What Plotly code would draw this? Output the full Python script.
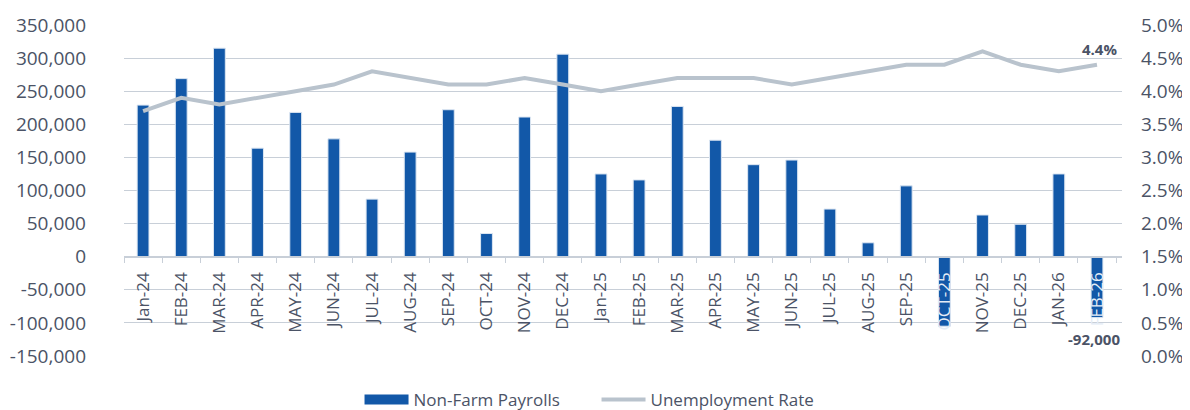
import plotly.graph_objects as go

months = ["Jan-24", "FEB-24", "MAR-24", "APR-24", "MAY-24", "JUN-24", "JUL-24", "AUG-24",
          "SEP-24", "OCT-24", "NOV-24", "DEC-24", "Jan-25", "FEB-25", "MAR-25", "APR-25",
          "MAY-25", "JUN-25", "JUL-25", "AUG-25", "SEP-25", "OCT-25", "NOV-25", "DEC-25",
          "JAN-26", "FEB-26"]

payrolls = [229000, 269000, 315000, 164000, 218000, 178000, 87000, 158000,
            222000, 35000, 211000, 306000, 125000, 116000, 227000, 176000,
            139000, 146000, 72000, 21000, 107000, -105000, 63000, 49000,
            125000, -92000]

unemployment = [0.037, 0.039, 0.038, 0.039, 0.040, 0.041, 0.043, 0.042,
                0.041, 0.041, 0.042, 0.041, 0.040, 0.041, 0.042, 0.042,
                0.042, 0.041, 0.042, 0.043, 0.044, 0.044, 0.046, 0.044,
                0.043, 0.044]

left_ticks = list(range(-150000, 350001, 50000))
right_ticks = [i * 0.005 for i in range(11)]

TEXT = "#4B5366"
GRID = "#C8CFD8"
BLUE = "#1258A8"
GREY = "#B9C3CD"
FONT = "Open Sans"

# labels that sit on top of a negative bar are drawn light
x_ticktext = [
    '<span style="color:#E4ECF6">{}</span>'.format(m) if v < 0 else m
    for m, v in zip(months, payrolls)
]

fig = go.Figure()
fig.add_trace(go.Bar(
    x=months, y=payrolls, name="Non-Farm Payrolls",
    marker=dict(color=BLUE, line=dict(color="#DCE6F2", width=1)),
    yaxis="y", showlegend=False,
))
# legend entry drawn as a wide band, like the reference
fig.add_trace(go.Scatter(
    x=[None], y=[None], name="Non-Farm Payrolls", mode="lines",
    line=dict(color=BLUE, width=12), yaxis="y", hoverinfo="skip",
))
fig.add_trace(go.Scatter(
    x=months, y=unemployment, name="Unemployment Rate", mode="lines",
    line=dict(color=GREY, width=4), yaxis="y2",
))

fig.add_annotation(x=months[-1], y=unemployment[-1], xref="x", yref="y2",
                   text="<b>{:.1%}</b>".format(unemployment[-1]), showarrow=False,
                   yshift=16, xshift=2, font=dict(family=FONT, size=15, color=TEXT))
fig.add_annotation(x=months[-1], y=payrolls[-1], xref="x", yref="y",
                   text="<b>{:,}</b>".format(payrolls[-1]), showarrow=False,
                   yshift=-21, xshift=-3, font=dict(family=FONT, size=15, color=TEXT))

zero_pos = (0 - left_ticks[0]) / (left_ticks[-1] - left_ticks[0])

fig.update_layout(
    width=1174, height=402,
    margin=dict(l=116, r=60, t=17, b=54, autoexpand=False),
    paper_bgcolor="white", plot_bgcolor="white",
    font=dict(family=FONT, size=17, color=TEXT),
    bargap=0.69,
    showlegend=True,
    legend=dict(orientation="h", x=0.236, xanchor="left", y=-0.133, yanchor="middle",
                font=dict(family=FONT, size=17, color=TEXT), itemwidth=44,
                entrywidth=178, entrywidthmode="pixels",
                traceorder="normal"),
    xaxis=dict(
        type="category", anchor="free", position=zero_pos,
        tickmode="array", tickvals=months, ticktext=x_ticktext,
        tickangle=-90, tickson="boundaries", ticks="outside", ticklen=6,
        tickcolor=GRID, showline=True, linecolor=GRID, linewidth=1.5,
        showgrid=False, ticklabelstandoff=8, automargin=False,
        tickfont=dict(family=FONT, size=17, color=TEXT),
    ),
    yaxis=dict(
        range=[left_ticks[0], left_ticks[-1]], tickvals=left_ticks,
        ticktext=["{:,}".format(v) for v in left_ticks],
        showgrid=True, gridcolor=GRID, gridwidth=1.3, zeroline=False,
        showline=False, ticks="", ticklabelstandoff=37, automargin=False,
        tickfont=dict(family=FONT, size=19, color=TEXT),
    ),
    yaxis2=dict(
        range=[right_ticks[0], right_ticks[-1]], tickvals=right_ticks,
        ticktext=["{:.1%}".format(v) for v in right_ticks],
        overlaying="y", side="right", showgrid=False, zeroline=False,
        showline=False, ticks="", ticklabelstandoff=18, automargin=False,
        tickfont=dict(family=FONT, size=19, color=TEXT),
    ),
)

fig.write_html("out.html")
